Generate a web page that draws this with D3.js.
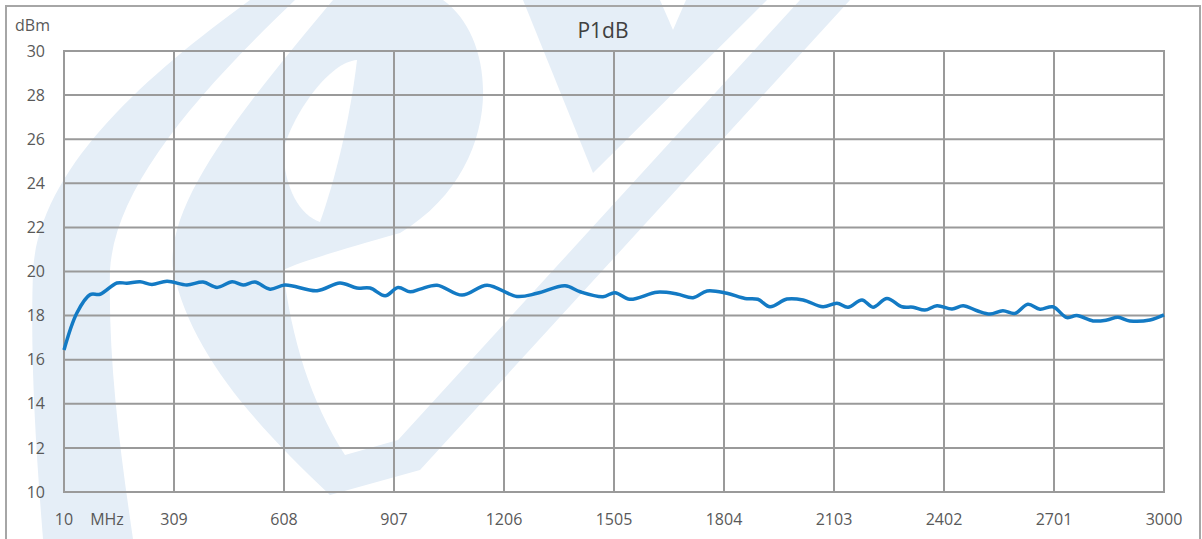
<!DOCTYPE html>
<html>
<head>
<meta charset="utf-8">
<script src="https://cdn.jsdelivr.net/npm/d3@7"></script>
<style>
  body { margin: 0; background: #fff; }
  text { font-family: "Open Sans", sans-serif; }
</style>
</head>
<body>
<div id="chart"></div>
<script>
// frequency (MHz) and P1dB (dBm)
var freq = [10, 45, 81, 108, 154, 181, 217, 249, 290, 344, 388, 426, 467, 497, 529, 570, 611, 698, 760, 806,
  842, 883, 918, 951, 978, 1024, 1092, 1160, 1241, 1296, 1372, 1413, 1475, 1508, 1548, 1622, 1676, 1720,
  1758, 1812, 1861, 1896, 1929, 1975, 2019, 2073, 2111, 2141, 2179, 2209, 2247, 2288, 2318, 2350, 2383,
  2424, 2454, 2492, 2527, 2562, 2595, 2630, 2663, 2698, 2736, 2763, 2807, 2845, 2875, 2907, 2962, 3000];
var p1db = [16.44, 18.12, 18.95, 18.97, 19.48, 19.47, 19.53, 19.41, 19.56, 19.39, 19.52, 19.28, 19.53, 19.39,
  19.52, 19.2, 19.39, 19.13, 19.48, 19.25, 19.25, 18.9, 19.27, 19.08, 19.2, 19.38, 18.93, 19.38, 18.87,
  19.01, 19.35, 19.08, 18.86, 19.04, 18.74, 19.06, 18.98, 18.81, 19.12, 19.01, 18.78, 18.74, 18.40,
  18.75, 18.71, 18.40, 18.56, 18.38, 18.71, 18.38, 18.78, 18.40, 18.38, 18.25, 18.45, 18.30, 18.45,
  18.22, 18.07, 18.22, 18.10, 18.51, 18.29, 18.40, 17.91, 18.0, 17.76, 17.80, 17.92, 17.76, 17.80, 18.03];
var xTicks = [10, 309, 608, 907, 1206, 1505, 1804, 2103, 2402, 2701, 3000];
var yTicks = [10, 12, 14, 16, 18, 20, 22, 24, 26, 28, 30];

var W = 1202, H = 539;
var m = {left: 64, top: 51, right: 1164, bottom: 492};

var x = d3.scaleLinear().domain([10, 3000]).range([m.left, m.right]);
var y = d3.scaleLinear().domain([10, 30]).range([m.bottom, m.top]);

var svg = d3.select("#chart").append("svg")
  .attr("width", W).attr("height", H);

// pale logo watermark behind everything
var wm = svg.append("g");
var pale = "#e5eef7";
wm.append("path").attr("fill", pale)
  .attr("d", "M250,0 L295,0 C190,100 115,190 110,270 C108,360 120,450 133,539 L43,539 C36,450 30,360 33,270 C40,170 140,80 250,0 Z");
wm.append("path").attr("fill", pale)
  .attr("d", "M333,0 L443,0 C500,40 505,170 400,233 C340,250 300,262 283,270 C292,340 310,400 345,455 L398,440 L800,0 L850,0 L420,470 L330,495 C250,420 190,350 173,270 C165,200 250,100 333,0 Z");
wm.append("path").attr("fill", "#fff")
  .attr("d", "M357,60 C330,62 295,110 283,150 C285,190 300,215 320,222 C335,180 350,120 357,60 Z");
wm.append("path").attr("fill", pale)
  .attr("d", "M523,0 L767,0 L593,173 Z");
wm.append("path").attr("fill", "#fff")
  .attr("d", "M660,0 L686,0 L673,30 Z");

// outer frame
svg.append("path")
  .attr("d", "M6," + H + " L6,6 L1200,6 L1200," + H)
  .attr("fill", "none").attr("stroke", "#a6a6a6").attr("stroke-width", 2);

var gridColor = "#9a9a9a";

// horizontal grid
svg.append("g").selectAll("line").data(yTicks).join("line")
  .attr("x1", m.left).attr("x2", m.right)
  .attr("y1", function(d) { return y(d); }).attr("y2", function(d) { return y(d); })
  .attr("stroke", gridColor).attr("stroke-width", 2);

// vertical grid
svg.append("g").selectAll("line").data(xTicks).join("line")
  .attr("x1", function(d) { return x(d); }).attr("x2", function(d) { return x(d); })
  .attr("y1", m.top - 1).attr("y2", m.bottom + 1)
  .attr("stroke", gridColor).attr("stroke-width", 2);

// y labels
svg.append("g").selectAll("text").data(yTicks).join("text")
  .attr("x", 45).attr("y", function(d) { return y(d); })
  .attr("dy", "0.35em")
  .attr("text-anchor", "end")
  .attr("font-size", 16).attr("fill", "#595959")
  .text(function(d) { return d; });

// x labels
svg.append("g").selectAll("text").data(xTicks).join("text")
  .attr("x", function(d) { return x(d); }).attr("y", 525)
  .attr("text-anchor", "middle")
  .attr("font-size", 16).attr("fill", "#595959")
  .text(function(d) { return d; });

svg.append("text").attr("x", 107).attr("y", 525)
  .attr("text-anchor", "middle").attr("font-size", 16).attr("fill", "#595959")
  .text("MHz");

svg.append("text").attr("x", 15).attr("y", 31)
  .attr("font-size", 16).attr("fill", "#595959")
  .text("dBm");

svg.append("text").attr("x", 603).attr("y", 38)
  .attr("text-anchor", "middle").attr("font-size", 21).attr("fill", "#404040")
  .text("P1dB");

// data line
var pts = freq.map(function(f, i) { return [f, p1db[i]]; });
var line = d3.line()
  .x(function(d) { return x(d[0]); })
  .y(function(d) { return y(d[1]); })
  .curve(d3.curveCatmullRom.alpha(0.5));

svg.append("path")
  .attr("d", line(pts))
  .attr("fill", "none")
  .attr("stroke", "#137ac4")
  .attr("stroke-width", 3.5)
  .attr("stroke-linejoin", "round");
</script>
</body>
</html>
